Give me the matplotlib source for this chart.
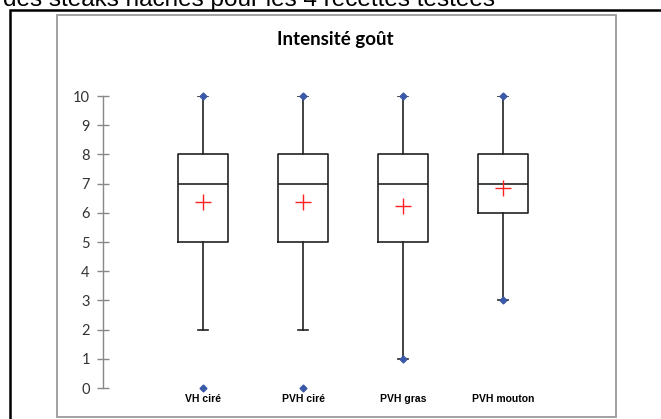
import matplotlib
matplotlib.use("Agg")
import matplotlib.pyplot as plt
from matplotlib.patches import Rectangle

W, H = 661, 419

categories = ["VH ciré", "PVH ciré", "PVH gras", "PVH mouton"]
q1 = [5, 5, 5, 6]
medians = [7, 7, 7, 7]
q3 = [8, 8, 8, 8]
whisker_lo = [2, 2, 1, 3]
whisker_hi = [10, 10, 10, 10]
means = [6.38, 6.38, 6.24, 6.84]
extremes = [[0, 10], [0, 10], [1, 10], [3, 10]]
yticks = list(range(0, 11))


def fx(x):
    return x / W


def fy(y):
    return 1 - y / H


fig = plt.figure(figsize=(W / 100, H / 100), dpi=100)

# cut-off caption line above the chart frame (it is cropped in the source too)
fig.text(fx(3), fy(6), "des steaks hachés pour les 4 recettes testées",
         family="Liberation Sans", fontsize=17.5, va="baseline", ha="left")

# outer black frame and inner grey chart border
fig.patches.append(Rectangle((fx(10), fy(430)), fx(700), fy(10) - fy(430),
                             transform=fig.transFigure, fill=False,
                             edgecolor="black", linewidth=1.8))
fig.patches.append(Rectangle((fx(57), fy(417)), fx(616 - 57), fy(15) - fy(417),
                             transform=fig.transFigure, fill=False,
                             edgecolor="#9a9a9a", linewidth=1.3))

fig.text(fx(335), fy(39), "Intensité goût", family="Lato", fontweight="bold",
         fontsize=13.5, ha="center", va="center")

ax = fig.add_axes([fx(103), fy(388), fx(500), fy(96) - fy(388)])

stats = []
for i, name in enumerate(categories):
    stats.append({
        "label": name,
        "q1": q1[i], "med": medians[i], "q3": q3[i],
        "whislo": whisker_lo[i], "whishi": whisker_hi[i],
        "mean": means[i], "fliers": extremes[i],
    })

positions = list(range(1, len(categories) + 1))
art = ax.bxp(stats, positions=positions, widths=0.5, capwidths=0.1,
             showmeans=True, showfliers=True,
             boxprops=dict(color="#222222", linewidth=1.2),
             medianprops=dict(color="#222222", linewidth=1.2),
             whiskerprops=dict(color="#222222", linewidth=1.2),
             capprops=dict(color="#222222", linewidth=1.2),
             meanprops=dict(marker="+", markeredgecolor="#ff2020",
                            markersize=12, markeredgewidth=1.0),
             flierprops=dict(marker="D", markerfacecolor="#3a5aa8",
                             markeredgecolor="#3a5aa8", markersize=3.5))
for fl in art["fliers"]:
    fl.set_clip_on(False)
    fl.set_zorder(5)

ax.set_xlim(0, 5)
ax.set_ylim(0, 10)
ax.set_yticks(yticks)
ax.set_yticklabels([str(t) for t in yticks], family="Lato", fontsize=10.5,
                   color="#333333")
ax.tick_params(axis="y", direction="inout", length=9, color="#888888",
               width=1, pad=5)
ax.set_xticks([])
for s in ["top", "right", "bottom"]:
    ax.spines[s].set_visible(False)
ax.spines["left"].set_color("#888888")
ax.spines["left"].set_linewidth(1)

for pos, name in zip(positions, categories):
    ax.annotate(name, xy=(pos, 0), xytext=(0, -11), textcoords="offset pixels",
                ha="center", va="center", family="Liberation Sans",
                fontweight="bold", fontsize=7.5, annotation_clip=False)

fig.savefig("out.png", dpi=100)
